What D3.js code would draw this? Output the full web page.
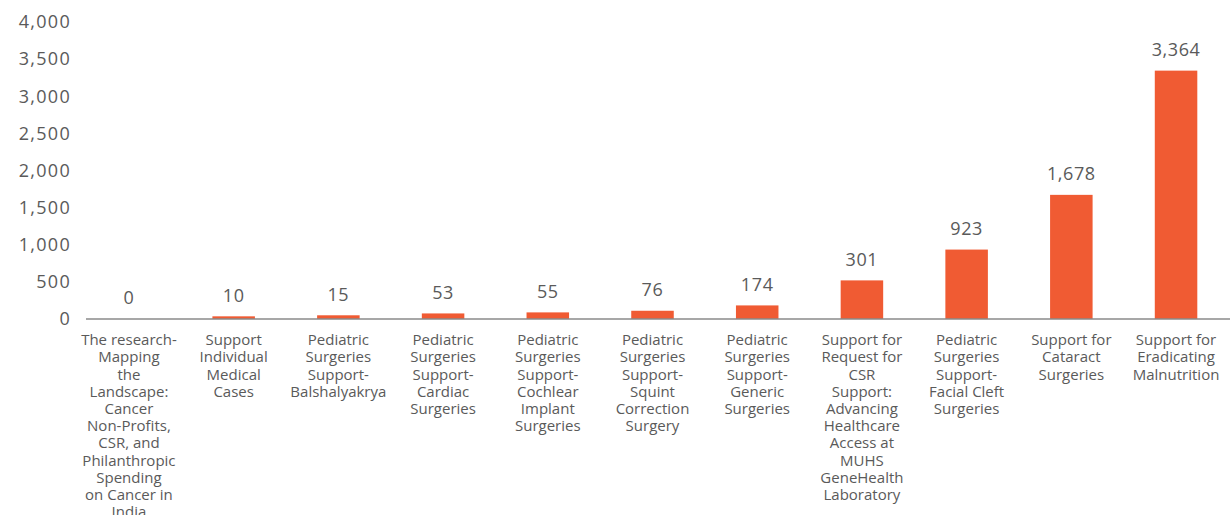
<!DOCTYPE html>
<html>
<head>
<meta charset="utf-8">
<script src="https://cdn.jsdelivr.net/npm/d3@7"></script>
<style>
  body { margin: 0; background: #fff; }
  svg { display: block; font-family: "Open Sans", sans-serif; }
</style>
</head>
<body>
<svg class="chart" width="1230" height="515"></svg>
<script>
// categories (line breaks as printed on the chart)
var categories = [
  "The research-\nMapping\nthe\nLandscape:\nCancer\nNon-Profits,\nCSR, and\nPhilanthropic\nSpending\non Cancer in\nIndia",
  "Support\nIndividual\nMedical\nCases",
  "Pediatric\nSurgeries\nSupport-\nBalshalyakrya",
  "Pediatric\nSurgeries\nSupport-\nCardiac\nSurgeries",
  "Pediatric\nSurgeries\nSupport-\nCochlear\nImplant\nSurgeries",
  "Pediatric\nSurgeries\nSupport-\nSquint\nCorrection\nSurgery",
  "Pediatric\nSurgeries\nSupport-\nGeneric\nSurgeries",
  "Support for\nRequest for\nCSR\nSupport:\nAdvancing\nHealthcare\nAccess at\nMUHS\nGeneHealth\nLaboratory",
  "Pediatric\nSurgeries\nSupport-\nFacial Cleft\nSurgeries",
  "Support for\nCataract\nSurgeries",
  "Support for\nEradicating\nMalnutrition"
]
// printed data labels
var labels = [0, 10, 15, 53, 55, 76, 174, 301, 923, 1678, 3364]
// bar heights as drawn in the picture
var barValues = [0, 36, 50, 75, 89, 111, 183, 520, 935, 1672, 3345]
var yTicks = [0, 500, 1000, 1500, 2000, 2500, 3000, 3500, 4000]

var svg = d3.select(".chart")
var textColor = "#5a5a5a"

var x = d3.scaleBand()
  .domain(d3.range(categories.length))
  .range([76.6, 1228.4])
  .paddingInner(0.594)
  .paddingOuter(0.297)

var y = d3.scaleLinear()
  .domain([0, 4000])
  .range([319, 22])

// y axis labels only
var yAxis = svg.append("g")
  .attr("transform", "translate(71,0)")
  .call(d3.axisLeft(y).tickValues(yTicks).tickFormat(d3.format(",")).tickSize(0).tickPadding(0))
yAxis.select(".domain").remove()
yAxis.selectAll("text")
  .attr("fill", textColor)
  .style("font-size", "18px")
  .style("letter-spacing", "1.3px")
  .style("font-family", "Open Sans")

// bars
svg.selectAll("rect.bar")
  .data(barValues)
  .enter().append("rect")
  .attr("class", "bar")
  .attr("x", (d, i) => x(i))
  .attr("width", x.bandwidth())
  .attr("y", d => y(d))
  .attr("height", d => y(0) - y(d))
  .attr("fill", "#F05B33")

// baseline
svg.append("line")
  .attr("x1", 86).attr("x2", 1230)
  .attr("y1", y(0)).attr("y2", y(0))
  .attr("stroke", "#8a8a8a")
  .attr("stroke-width", 1.5)

// value labels
svg.selectAll("text.val")
  .data(barValues)
  .enter().append("text")
  .attr("class", "val")
  .attr("x", (d, i) => x(i) + x.bandwidth() / 2)
  .attr("y", d => y(d) - 21)
  .attr("dy", "0.35em")
  .attr("text-anchor", "middle")
  .attr("fill", textColor)
  .style("font-size", "18px")
  .style("letter-spacing", "0.6px")
  .text((d, i) => d3.format(",")(labels[i]))

// category labels
var cat = svg.selectAll("text.cat")
  .data(categories)
  .enter().append("text")
  .attr("class", "cat")
  .attr("x", (d, i) => x(i) + x.bandwidth() / 2)
  .attr("y", 340)
  .attr("text-anchor", "middle")
  .attr("fill", textColor)
  .style("font-size", "15px")

cat.each(function(d, i) {
  var t = d3.select(this)
  d.split("\n").forEach((line, k) => {
    t.append("tspan")
      .attr("x", x(i) + x.bandwidth() / 2)
      .attr("y", 340 + k * 17.2)
      .attr("dy", "0.35em")
      .text(line)
  })
})
</script>
</body>
</html>
